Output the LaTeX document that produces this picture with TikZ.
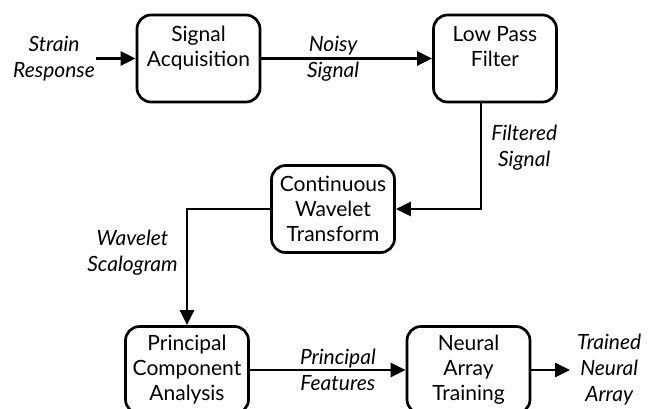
\documentclass[tikz,border=0pt]{standalone}
\usepackage{fontspec}
\setmainfont{Lato}
\usepackage{tikz}
\usetikzlibrary{arrows.meta, positioning, calc}

\tikzset{
  block/.style={draw, line width=2.7pt, rounded corners=14pt,
    minimum width=123pt, minimum height=87pt, align=center,
    font=\fontsize{21}{25}\selectfont},
  flow/.style={line width=2.7pt, -{Triangle[length=15pt,width=14pt]}},
  lbl/.style={align=center, inner sep=1pt,
    font=\fontsize{21}{26}\selectfont\itshape}
}

\begin{document}
\begin{tikzpicture}[x=1pt, y=-1pt]
\useasboundingbox (0,0) rectangle (648,408);
\clip (0,0) rectangle (648,408);

% processing stages
\node[block] (acq) at (198.5,58.5) {Signal\\Acquisition\\\vphantom{A}};
\node[block] (lpf) at (495,58.5) {Low Pass\\Filter\\\vphantom{A}};
\node[block] (cwt) at (333,209) {Continuous\\Wavelet\\Transform};
\node[block] (pca) at (187,370) {Principal\\Component\\Analysis};
\node[block] (nat) at (468.5,370) {Neural\\Array\\Training};

% input and output
\node[lbl] (strain) at (54,58.5) {Strain\\Response};
\node[lbl, anchor=west] (trained) at (576,370) {Trained\\Neural\\Array};

% data flow
\draw[flow] (strain) -- (acq);
\draw[flow] (acq) -- node[lbl, pos=0.42] (noisy) {Noisy\\Signal} (lpf);
\draw[flow] ([xshift=-14pt]lpf.south) |- node[lbl, pos=0.21, anchor=west, xshift=8pt] (filtered) {Filtered\\Signal} (cwt);
\draw[flow] (cwt) -| node[lbl, pos=0.69, anchor=east, xshift=-7pt] (scalogram) {Wavelet\\Scalogram} (pca);
\draw[flow] (pca) -- node[lbl, pos=0.565] (features) {Principal\\Features} (nat);
\draw[flow, shorten >=6pt] (nat) -- (trained);
\end{tikzpicture}
\end{document}
